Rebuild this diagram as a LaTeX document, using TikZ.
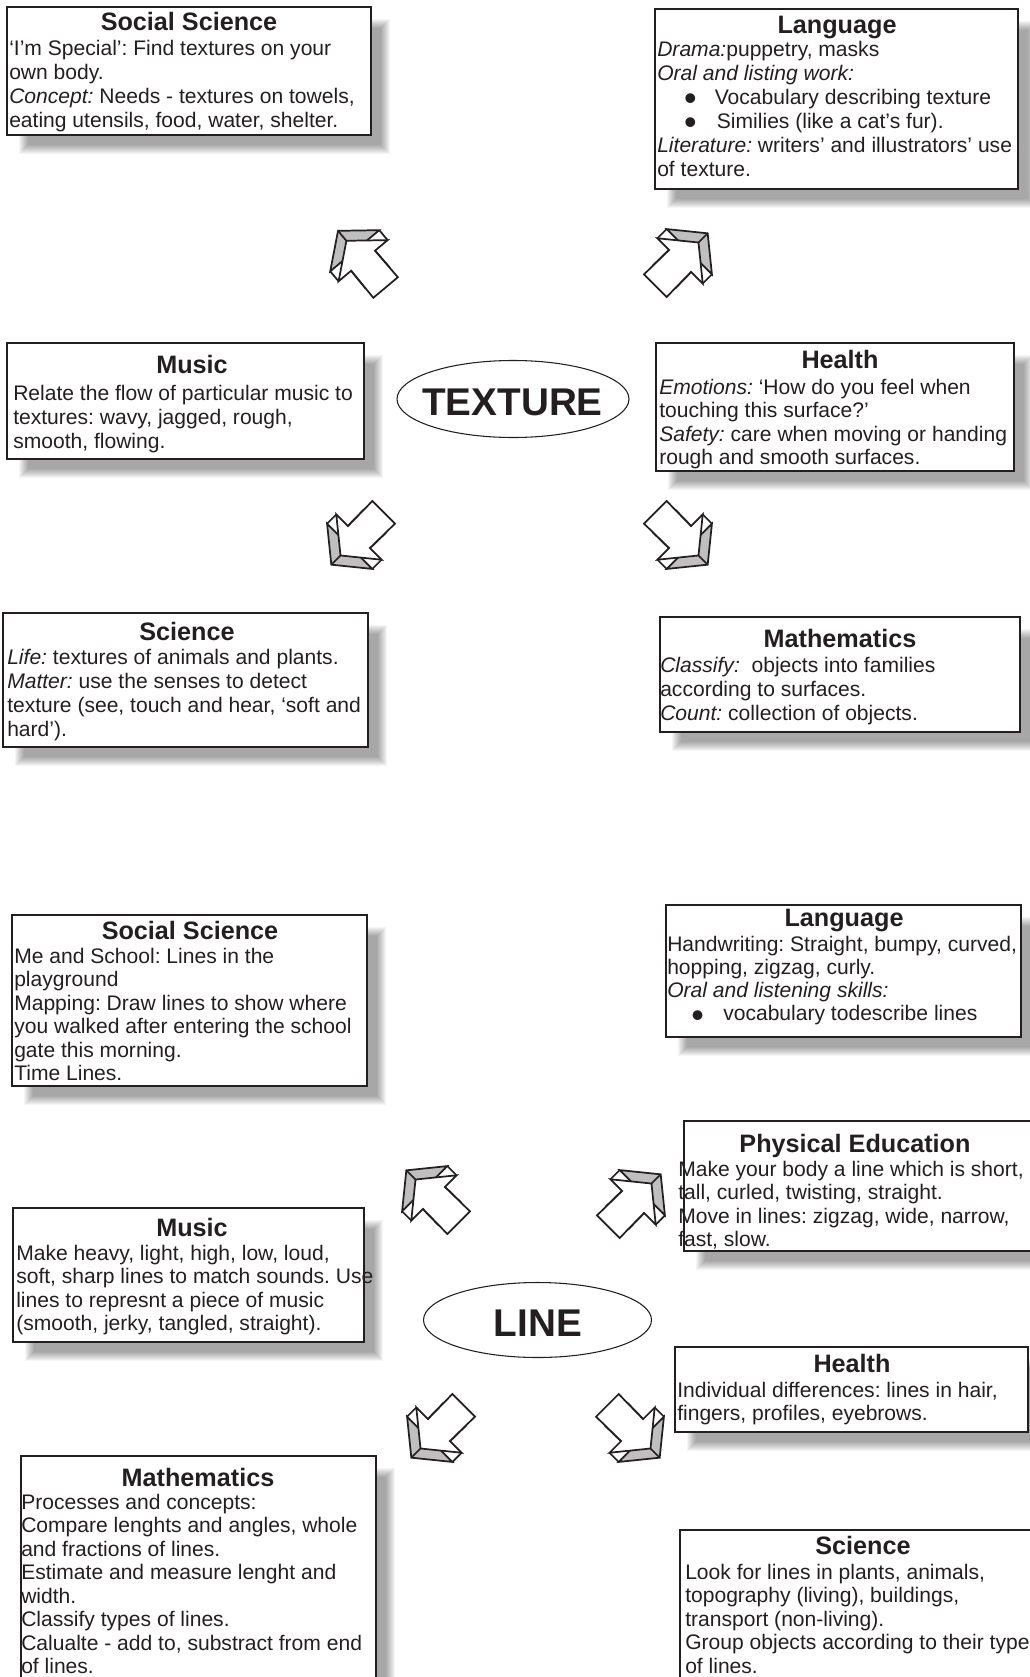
\documentclass[tikz,border=0pt]{standalone}
\usepackage{fontspec}
\usepackage{graphicx}
\setmainfont{Liberation Sans}
\usetikzlibrary{shapes.geometric,fit}
\pgfdeclarelayer{bg}
\pgfsetlayers{bg,main}
\definecolor{textc}{RGB}{35,31,32}
\frenchspacing
\newcommand\myBody{\fontsize{15.8pt}{17.6pt}\selectfont\frenchspacing}
\newcommand\myBodyT{\fontsize{15.8pt}{18pt}\selectfont\frenchspacing}
\newcommand\myBodyB{\fontsize{15.8pt}{17.3pt}\selectfont\frenchspacing}
\newcommand\myTitle{\fontsize{18.9pt}{22pt}\selectfont\bfseries}
\newcommand\myBig{\fontsize{29pt}{34pt}\selectfont\bfseries}
\newcommand\myBul{\makebox[0pt][c]{\raisebox{-5pt}[0pt][0pt]{\scalebox{1.7}{•}}}}
\begin{document}
\begin{tikzpicture}[x=0.75pt,y=-0.75pt,
  box/.style={draw=textc, line width=1pt, fill=white, inner sep=0pt},
  txt/.style={inner sep=0pt, align=left, font=\myBody, text=textc, anchor=north west},
  txtT/.style={txt, font=\myBodyT},
  ttl/.style={inner sep=0pt, font=\myTitle, text=textc, anchor=base},
  ell/.style={ellipse, draw=textc, line width=0.8pt, inner sep=0pt},
  bigtxt/.style={inner sep=0pt, font=\myBig, text=textc},
  arrowline/.style={line width=1.3pt, draw=textc},
  blockarrow/.pic={
    \filldraw[arrowline, fill=black!25] (39,0) -- (13,32) -- (13,15.5) -- (-22,16) -- (-22,-16) -- (13,-15.5) -- (13,-32) -- cycle;
    \draw[arrowline] (26,0) -- (39,0) (0,32) -- (13,32) (0,-32) -- (13,-32);
    \filldraw[arrowline, fill=white] (26,0) -- (0,32) -- (0,15.5) -- (-35,16) -- (-35,-16) -- (0,-15.5) -- (0,-32) -- cycle;
  }]
\useasboundingbox (0,0) rectangle (1030,1677);

% ---------------- boxes ----------------
\node[box, fit={(7,7) (371,135)}] (b1) {};
\node[box, fit={(655,9) (1018,189)}] (b2) {};
\node[box, fit={(7,343) (364,459)}] (b3) {};
\node[box, fit={(656,343) (1014,471)}] (b4) {};
\node[box, fit={(3,613) (368,747)}] (b5) {};
\node[box, fit={(660,617) (1020,732)}] (b6) {};
\node[box, fit={(12,915) (367,1086)}] (b7) {};
\node[box, fit={(666,905) (1021,1037)}] (b8) {};
\node[box, fit={(684,1121) (1045,1251)}] (b9) {};
\node[box, fit={(13,1208) (364,1342)}] (b10) {};
\node[box, fit={(675,1347) (1028,1432)}] (b11) {};
\node[box, fit={(21,1456) (376,1700)}] (b12) {};
\node[box, fit={(680,1530) (1045,1700)}] (b13) {};

\begin{pgfonlayer}{bg}
  \fill[white] (0,0) rectangle (1030,1677);
  \foreach \n in {b1,b2,b3,b4,b5,b6,b7,b8,b9,b10,b11,b12,b13}{
    \foreach \k in {1,...,10}{
      \fill[black, opacity=0.04] ([shift={(12+\k,12+\k)}]\n.north west) rectangle ([shift={(19-\k,19-\k)}]\n.south east);
    }
  }
\end{pgfonlayer}

% ---------------- texture part ----------------
\node[ttl] (b1h) at (189,31) {Social Science};
\node[txtT] (b1t) at (9,38.2) {\strut ‘I’m Special’: Find textures on your\\
\strut own body.\\
\strut \textit{Concept:} Needs - textures on towels,\\
\strut eating utensils, food, water, shelter.};

\node[ttl] (b2h) at (837,34) {Language};
\node[txtT] (b2t) at (657,39.2) {\strut \textit{Drama:}puppetry, masks\\
\strut \textit{Oral and listing work:}\\
\strut\hspace*{24.75pt}\myBul\hspace*{18.4pt}Vocabulary describing texture\\
\strut\hspace*{24.75pt}\myBul\hspace*{20pt}Similies (like a cat’s fur).\\
\strut \textit{Literature:} writers’ and illustrators’ use\\
\strut of texture.};

\node[ttl] (b3h) at (192,373) {Music};
\node[txtT] (b3t) at (13,383.2) {\strut Relate the flow of particular music to\\
\strut textures: wavy, jagged, rough,\\
\strut smooth, flowing.};

\node[ttl] (b4h) at (840,368) {Health};
\node[txt] (b4t) at (659,377.6) {\strut \textit{Emotions:} ‘How do you feel when\\
\strut touching this surface?’\\
\strut \textit{Safety:} care when moving or handing\\
\strut rough and smooth surfaces.};

\node[ttl] (b5h) at (187,640) {Science};
\node[txtT] (b5t) at (7,647.2) {\strut \textit{Life:} textures of animals and plants.\\
\strut \textit{Matter:} use the senses to detect\\
\strut texture (see, touch and hear, ‘soft and\\
\strut hard’).};

\node[ttl] (b6h) at (840,647) {Mathematics};
\node[txtT] (b6t) at (660,655.2) {\strut \textit{Classify:}\ \ objects into families\\
\strut according to surfaces.\\
\strut \textit{Count:} collection of objects.};

\node[ell, minimum width=174pt, minimum height=57.75pt] (tex) at (513,399) {};
\node[bigtxt] (texl) at (512.5,402) {TEXTURE};

\pic[rotate=130] at (363.1,260.7) {blockarrow};
\pic[rotate=45] at (680.1,260.9) {blockarrow};
\pic[rotate=-135] at (358.9,537.1) {blockarrow};
\pic[rotate=-45] at (680.1,537.1) {blockarrow};

% ---------------- line part ----------------
\node[ttl] (b7h) at (190,939) {Social Science};
\node[txt] (b7t) at (14,946.7) {\strut Me and School: Lines in the\\
\strut playground\\
\strut Mapping: Draw lines to show where\\
\strut you walked after entering the school\\
\strut gate this morning.\\
\strut Time Lines.};

\node[ttl] (b8h) at (844,926) {Language};
\node[txt, font=\myBodyB] (b8t) at (667,934.9) {\strut Handwriting: Straight, bumpy, curved,\\
\strut hopping, zigzag, curly.\\
\strut \textit{Oral and listening skills:}\\
\strut\hspace*{22.8pt}\myBul\hspace*{19.2pt}vocabulary todescribe lines};

\node[ttl] (b9h) at (855,1152) {Physical Education};
\node[txt] (b9t) at (678,1159.7) {\strut Make your body a line which is short,\\
\strut tall, curled, twisting, straight.\\
\strut Move in lines: zigzag, wide, narrow,\\
\strut fast, slow.};

\node[ttl] (b10h) at (192,1236) {Music};
\node[txt] (b10t) at (16,1243.7) {\strut Make heavy, light, high, low, loud,\\
\strut soft, sharp lines to match sounds. Use\\
\strut lines to represnt a piece of music\\
\strut (smooth, jerky, tangled, straight).};

\node[ttl] (b11h) at (852,1372) {Health};
\node[txt] (b11t) at (677,1380.7) {\strut Individual differences: lines in hair,\\
\strut fingers, profiles, eyebrows.};

\node[ttl] (b12h) at (198,1486) {Mathematics};
\node[txt] (b12t) at (21,1492.8) {\strut Processes and concepts:\\
\strut Compare lenghts and angles, whole\\
\strut and fractions of lines.\\
\strut Estimate and measure lenght and\\
\strut width.\\
\strut Classify types of lines.\\
\strut Calualte - add to, substract from end\\
\strut of lines.};

\node[ttl] (b13h) at (863,1554) {Science};
\node[txt] (b13t) at (685,1562.7) {\strut Look for lines in plants, animals,\\
\strut topography (living), buildings,\\
\strut transport (non-living).\\
\strut Group objects according to their types\\
\strut of lines.};

\node[ell, minimum width=171pt, minimum height=56.25pt] (lin) at (537.5,1320) {};
\node[bigtxt] (linl) at (538,1323) {LINE};

\pic[rotate=135] at (433.9,1197.9) {blockarrow};
\pic[rotate=45] at (633.1,1201.9) {blockarrow};
\pic[rotate=-135] at (438.9,1430.1) {blockarrow};
\pic[rotate=-45] at (632.1,1430.1) {blockarrow};
\end{tikzpicture}
\end{document}
